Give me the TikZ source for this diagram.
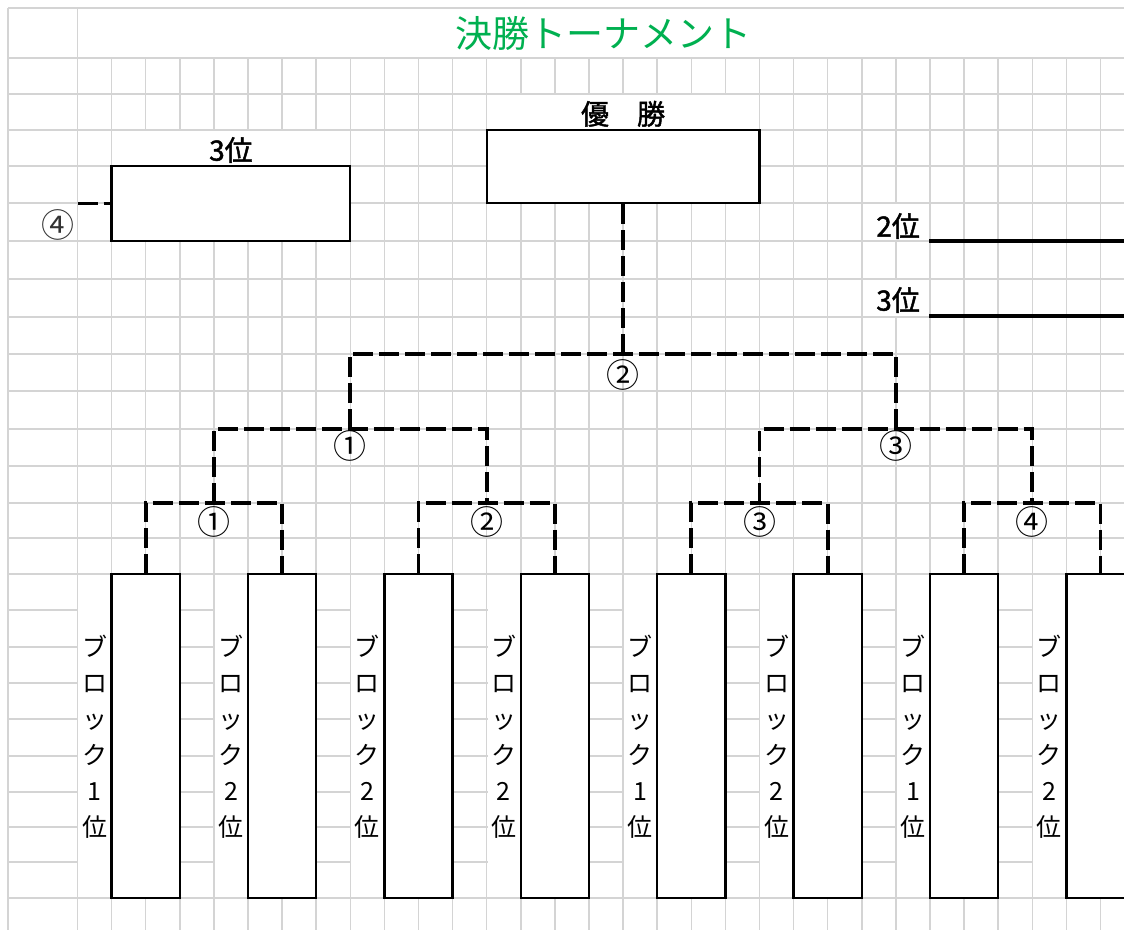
\documentclass[tikz,border=0pt]{standalone}
\usepackage{fontspec}
\setmainfont{Noto Sans CJK JP}
\newfontfamily\rankfont[FakeBold=1.6]{Noto Sans CJK JP}
\usetikzlibrary{positioning}
\definecolor{gridgray}{RGB}{212,212,212}
\definecolor{titlegreen}{RGB}{0,176,80}

\begin{document}
\begin{tikzpicture}[x=1pt, y=-1pt, node distance=19pt]
\tikzstyle{gridline} = [gridgray, line width=1.5pt]
\tikzstyle{blank} = [fill=white]
\tikzstyle{entry} = [rectangle, draw, fill=white, line width=2.3pt, inner sep=0, outer sep=0]
\tikzstyle{bracket} = [line width=3.8pt, dash pattern=on 20pt off 6pt]
\tikzstyle{rank} = [inner sep=0, font=\rankfont\fontsize{28}{30}\selectfont]
\tikzstyle{seed} = [inner sep=0, font=\fontsize{33}{34}\selectfont]
\tikzstyle{blocklabel} = [inner sep=0, align=center, font=\fontsize{25}{36}\selectfont]

\useasboundingbox (0,0) rectangle (1124,930);
\clip (0,0) rectangle (1124,930);

% sheet grid
\foreach \y in {8,58,94,130,166,203,241,279,317,354,391,429,466,503,538,574,610,647,683,719,756,792,827,862,898}
  \draw[gridline] (8,\y) -- (1124,\y);
\draw[gridline] (8,8) -- (8,930);
\draw[gridline] (77.5,8) -- (77.5,930);
\foreach \k in {2,...,31}
  \draw[gridline] ({77.5+34.1*(\k-1)},58) -- ({77.5+34.1*(\k-1)},930);

% merged cells
\foreach \i in {0,...,7}
  \fill[blank] ({77.5+34.1*4*\i+0.9},574.9) rectangle ({77.5+34.1*(4*\i+1)-0.9},897.1);
\fill[blank] (112.5,130.9) rectangle (349.4,165.1);
\fill[blank] (487.6,94.9) rectangle (758.6,129.1);
\fill[blank] (862.7,203.9) rectangle (929,240.1);
\fill[blank] (862.7,279.9) rectangle (929,316.1);

\node[font=\fontsize{37}{40}\selectfont, text=titlegreen] (title) at (603,33) {決勝トーナメント};

\node[entry, minimum width=272.8pt, minimum height=73pt] (win) at (623.1,166.5) {};
\node[rank, above=3pt of win] (winlbl) {優　勝};
\node[entry, minimum width=238.7pt, minimum height=75pt] (third) at (230.95,203.5) {};
\node[rank, above=3pt of third] (thirdlbl) {3位};
\coordinate (stub) at (77.5,203.5);
\draw[bracket] (stub) -- (third.west);
\node[seed, text=black!80] (s4) at (57.5,225) {④};

\node[rank, anchor=east] (second) at (920,226) {2位};
\node[rank, anchor=east] (bronze) at (920,300) {3位};
\coordinate (r2a) at (929,241);
\coordinate (r2b) at (1124,241);
\coordinate (r3a) at (929,316);
\coordinate (r3b) at (1124,316);
\draw[line width=4pt] (r2a) -- (r2b);
\draw[line width=4pt] (r3a) -- (r3b);

\foreach \i in {0,...,7}
  \node[entry, minimum width=68.2pt, minimum height=324pt] (b\i) at ({77.5+34.1*(4*\i+2)},736) {};
\foreach \i/\place in {0/1,1/2,2/2,3/2,4/1,5/2,6/1,7/2}
  \node[blocklabel] (l\i) at ({77.5+34.1*(4*\i+0.5)},737) {ブ\\ロ\\ッ\\ク\\\place\\位};

\foreach \i in {0,...,3}
  \coordinate (j\i) at ({77.5+34.1*(8*\i+4)},503);
\coordinate (k0) at (350.3,429);
\coordinate (k1) at (895.9,429);
\coordinate (top) at (623.1,354);

\foreach \i in {0,...,3} {
  \pgfmathtruncatemacro\a{2*\i}
  \pgfmathtruncatemacro\b{2*\i+1}
  \draw[bracket] (b\a.north) |- (j\i) -| (b\b.north);
}
\draw[bracket] (j0) |- (k0) -| (j1);
\draw[bracket] (j2) |- (k1) -| (j3);
\draw[bracket] (k0) |- (top) -| (k1);
\draw[bracket] (top) -- (win.south);

\node[seed, below of=j0] (m0) {①};
\node[seed, below of=j1] (m1) {②};
\node[seed, below of=j2] (m2) {③};
\node[seed, below of=j3] (m3) {④};
\node[seed, below of=k0, node distance=17pt] (m4) {①};
\node[seed, below of=k1, node distance=17pt] (m5) {③};
\node[seed, below of=top, node distance=21pt] (m6) {②};
\end{tikzpicture}
\end{document}
